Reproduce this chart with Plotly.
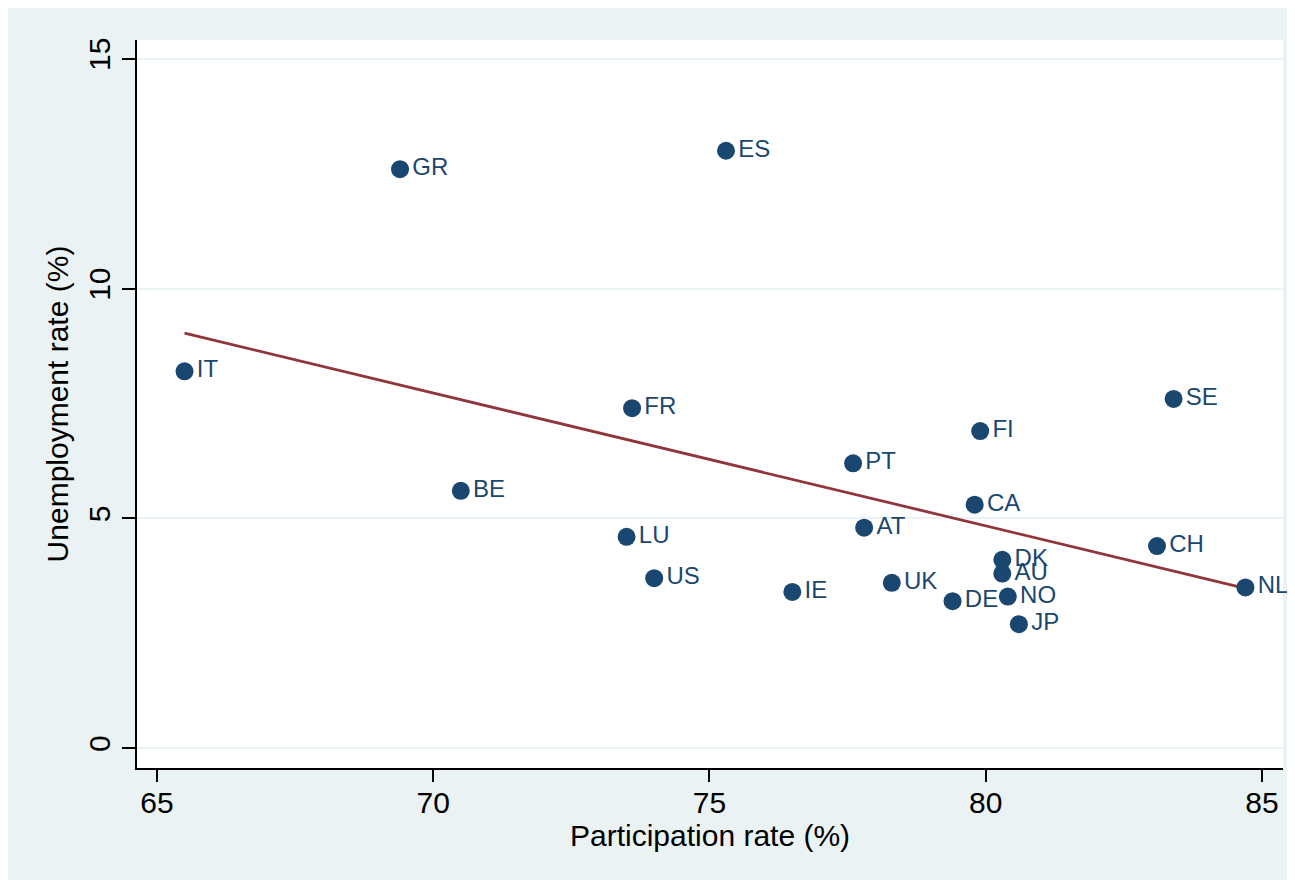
import plotly.graph_objects as go

countries = ["IT", "GR", "ES", "FR", "BE", "LU", "US", "IE", "PT", "AT", "UK",
             "DE", "FI", "CA", "DK", "AU", "NO", "JP", "SE", "CH", "NL"]
participation = [65.5, 69.4, 75.3, 73.6, 70.5, 73.5, 74.0, 76.5, 77.6, 77.8, 78.3,
                 79.4, 79.9, 79.8, 80.3, 80.3, 80.4, 80.6, 83.4, 83.1, 84.7]
unemployment = [8.2, 12.6, 13.0, 7.4, 5.6, 4.6, 3.7, 3.4, 6.2, 4.8, 3.6,
                3.2, 6.9, 5.3, 4.1, 3.8, 3.3, 2.7, 7.6, 4.4, 3.5]

fit_x = [65.5, 84.7]
fit_y = [9.03, 3.48]

x_ticks = [65, 70, 75, 80, 85]
y_ticks = [0, 5, 10, 15]

NAVY = "#1A476F"
MAROON = "#90353B"
BG = "#EAF2F3"
FONT = "Liberation Sans, Arial, Helvetica, sans-serif"

fig = go.Figure()
fig.add_trace(go.Scatter(
    x=fit_x, y=fit_y, mode="lines",
    line=dict(color=MAROON, width=2.8), hoverinfo="skip", showlegend=False))
fig.add_trace(go.Scatter(
    x=participation, y=unemployment, mode="markers+text",
    text=countries, textposition="middle right",
    textfont=dict(family=FONT, size=24, color=NAVY),
    marker=dict(color=NAVY, size=18, line=dict(width=0)),
    showlegend=False, cliponaxis=False))

fig.update_layout(
    width=1295, height=880,
    paper_bgcolor=BG, plot_bgcolor="white",
    margin=dict(l=129, r=20, t=32, b=120),
    font=dict(family=FONT, size=30, color="black"),
    annotations=[dict(text="Participation rate (%)", xref="paper", yref="paper",
                      x=0.5, y=-67 / 728, xanchor="center", yanchor="middle",
                      showarrow=False, font=dict(size=30))],
)
fig.update_xaxes(
    range=[64.64, 85.38], tickvals=x_ticks, showgrid=False, zeroline=False,
    showline=True, linecolor="black", linewidth=2,
    ticks="outside", ticklen=12, tickwidth=1.5, tickcolor="black",
    ticklabelstandoff=-5, tickfont=dict(size=30))
fig.update_yaxes(
    range=[-0.43, 15.41], tickvals=y_ticks, showgrid=True, gridcolor=BG, gridwidth=2,
    zeroline=False, showline=True, linecolor="black", linewidth=2,
    ticks="outside", ticklen=13, tickwidth=1.5, tickcolor="black", tickangle=-90,
    tickfont=dict(size=30), title=dict(text="Unemployment rate (%)", font=dict(size=30), standoff=6))

fig.write_html("out.html")
